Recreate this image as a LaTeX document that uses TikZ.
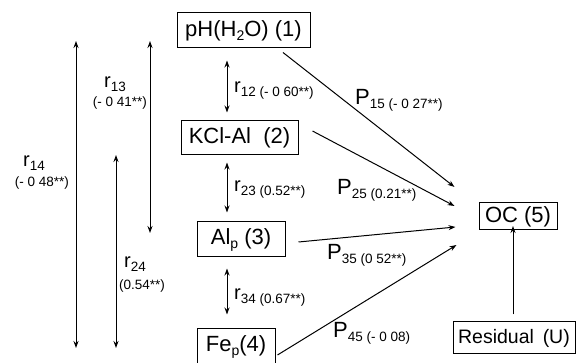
\documentclass[tikz,border=0pt]{standalone}
\usepackage{fontspec}
\setmainfont{Liberation Sans}
\usetikzlibrary{arrows.meta,calc}

% symbol with a lowered, smaller subscript (coefficient and its value)
\newcommand{\coefsym}[3]{{\fontsize{#1}{#1}\selectfont #2}\raisebox{-3.5pt}{\fontsize{13.5}{14}\selectfont #3}}
\newcommand{\coefval}[1]{{\fontsize{13.5}{14}\selectfont #1}}
\newcommand{\boxsub}[1]{\raisebox{-4pt}{\fontsize{14}{14}\selectfont #1}}

\tikzset{
  varbox/.style={draw, line width=1pt, inner sep=0pt, font=\fontsize{22}{22}\selectfont},
  link/.style={line width=1pt, -{Stealth[length=7pt,width=5pt]}},
  corr/.style={line width=1pt, {Stealth[length=7pt,width=5pt]}-{Stealth[length=7pt,width=5pt]}},
  lab/.style={anchor=base west, inner sep=0pt},
  vallab/.style={anchor=base, inner sep=0pt}
}

\begin{document}
\begin{tikzpicture}[x=1pt,y=-1pt]
\useasboundingbox (0,0) rectangle (579,363);
\clip (0,0) rectangle (579,363);

% variables
\node[varbox, minimum width=133pt, minimum height=35pt] (ph)  at (243.5,30.5) {pH(H\boxsub{2}O) (1)};
\node[varbox, minimum width=117pt, minimum height=34pt] (kcl) at (239.5,138)  {KCl-Al\ \ (2)};
\node[varbox, minimum width=88pt,  minimum height=35pt] (alp) at (241,239.5)  {Al\boxsub{p} (3)};
\node[varbox, minimum width=78pt,  minimum height=36pt] (fep) at (236,347) {\raisebox{-2pt}{Fe\boxsub{p}(4)}};
\node[varbox, minimum width=78pt,  minimum height=27pt] (oc)  at (518,216.5)  {OC (5)};
\node[varbox, minimum width=122pt, minimum height=32pt, font=\fontsize{19.5}{20}\selectfont] (res) at (514,338) {Residual\hspace{0.45em}(U)};

% correlations between neighbouring variables
\draw[corr] ([shift={(-16.5,12)}]ph.south)  -- ([shift={(-12.5,-8)}]kcl.north);
\draw[corr] ([shift={(-12.5,7)}]kcl.south)  -- ([shift={(-14,-9)}]alp.north);
\draw[corr] ([shift={(-14,11)}]alp.south)   -- ([shift={(-9,-14)}]fep.north);

% correlations spanning several variables
\coordinate (r13top) at (150,41);
\coordinate (r13bot) at (150,233);
\coordinate (r14top) at (76,41);
\coordinate (r14bot) at (76,348);
\coordinate (r24top) at (116,155);
\coordinate (r24bot) at (116,348);
\draw[corr] (r13top) -- (r13bot);
\draw[corr] (r14top) -- (r14bot);
\draw[corr] (r24top) -- (r24bot);

% direct paths to organic carbon
\draw[link] ([shift={(39.5,4)}]ph.south)     -- ([shift={(-24,-29.5)}]oc.west);
\draw[link] ([shift={(14,-7)}]kcl.east)      -- ([shift={(-24,-10.5)}]oc.west);
\draw[link] ([shift={(13,2.5)}]alp.east)     -- ([shift={(-23,10.5)}]oc.west);
\draw[link] ([shift={(2,8)}]fep.east)        -- ([shift={(-22,28.5)}]oc.west);
\draw[link] ([shift={(-1,-7)}]res.north)     -- ([shift={(-5,-4.5)}]oc.south);

% correlation labels
\node[lab] (l12) at (234,93)  {\coefsym{20}{r}{12 (- 0 60**)}};
\node[lab] (l23) at (234,192) {\coefsym{20}{r}{23 (0.52**)}};
\node[lab] (l34) at (234,300) {\coefsym{20}{r}{34 (0.67**)}};
\node[lab] (l13) at (104,88)  {\coefsym{20}{r}{13}};
\node[vallab] (v13) at (120,107) {\coefval{(- 0 41**)}};
\node[lab] (l14) at (23,167)  {\coefsym{20}{r}{14}};
\node[vallab] (v14) at (42,187)  {\coefval{(- 0 48**)}};
\node[lab] (l24) at (124,268) {\coefsym{20}{r}{24}};
\node[vallab] (v24) at (142,290) {\coefval{(0.54**)}};

% path coefficient labels
\node[lab] (p15) at (355,105) {\coefsym{22}{P}{15 (- 0 27**)}};
\node[lab] (p25) at (337,195) {\coefsym{22}{P}{25 (0.21**)}};
\node[lab] (p35) at (327,260) {\coefsym{22}{P}{35 (0 52**)}};
\node[lab] (p45) at (333,338) {\coefsym{22}{P}{45 (- 0 08)}};
\end{tikzpicture}
\end{document}
